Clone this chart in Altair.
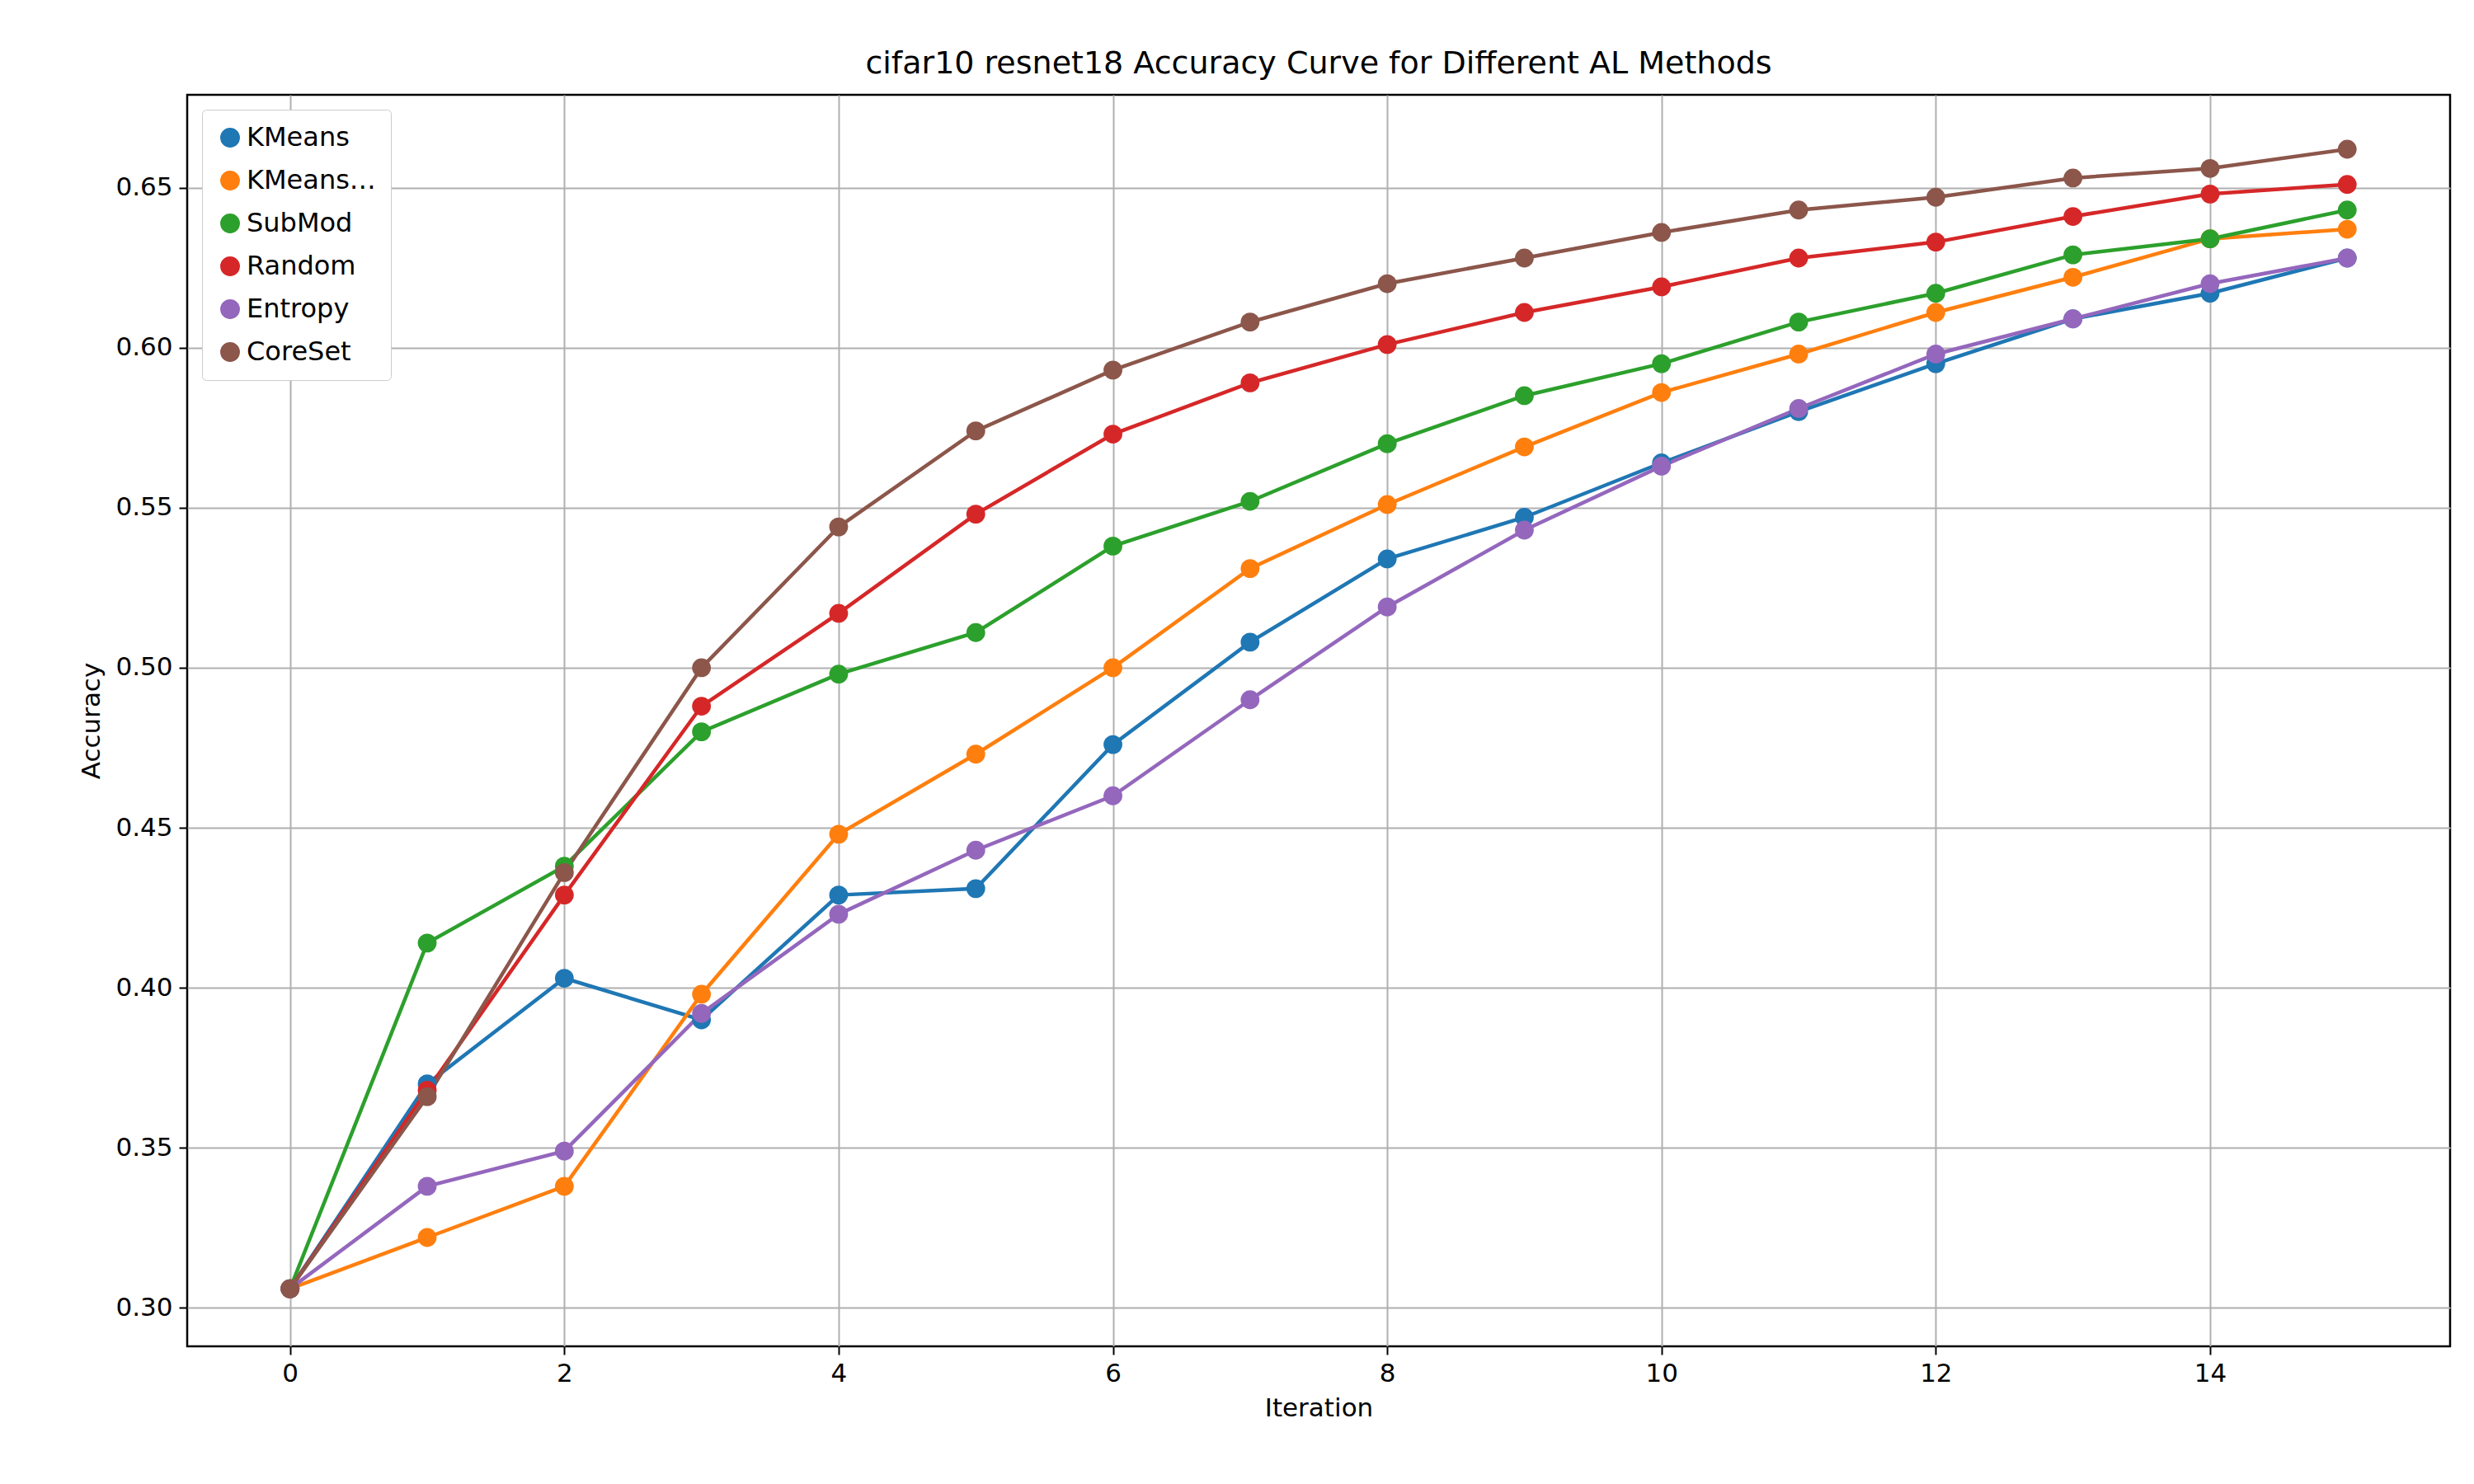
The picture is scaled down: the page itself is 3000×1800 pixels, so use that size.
import altair as alt
import pandas as pd

iters = list(range(16))
methods = ["KMeans", "KMeans+Unc", "SubMod", "Random", "Entropy", "CoreSet"]
colors = ["#1f77b4", "#ff7f0e", "#2ca02c", "#d62728", "#9467bd", "#8c564b"]
kmeans = [0.306, 0.370, 0.403, 0.390, 0.429, 0.431, 0.476, 0.508, 0.534, 0.547, 0.564, 0.580, 0.595, 0.609, 0.617, 0.628]
kmeans_unc = [0.306, 0.322, 0.338, 0.398, 0.448, 0.473, 0.500, 0.531, 0.551, 0.569, 0.586, 0.598, 0.611, 0.622, 0.634, 0.637]
submod = [0.306, 0.414, 0.438, 0.480, 0.498, 0.511, 0.538, 0.552, 0.570, 0.585, 0.595, 0.608, 0.617, 0.629, 0.634, 0.643]
random_ = [0.306, 0.368, 0.429, 0.488, 0.517, 0.548, 0.573, 0.589, 0.601, 0.611, 0.619, 0.628, 0.633, 0.641, 0.648, 0.651]
entropy = [0.306, 0.338, 0.349, 0.392, 0.423, 0.443, 0.460, 0.490, 0.519, 0.543, 0.563, 0.581, 0.598, 0.609, 0.620, 0.628]
coreset = [0.306, 0.366, 0.436, 0.500, 0.544, 0.574, 0.593, 0.608, 0.620, 0.628, 0.636, 0.643, 0.647, 0.653, 0.656, 0.662]

series = [kmeans, kmeans_unc, submod, random_, entropy, coreset]
rows = []
for m, vals in zip(methods, series):
    for i, v in zip(iters, vals):
        rows.append({"Iteration": i, "Accuracy": v, "Method": m})
df = pd.DataFrame(rows)

x = alt.X("Iteration:Q", scale=alt.Scale(domain=[-0.75, 15.75], nice=False, zero=False),
          axis=alt.Axis(values=list(range(0, 16, 2)), title="Iteration"))
y = alt.Y("Accuracy:Q", scale=alt.Scale(domain=[0.288, 0.679], nice=False, zero=False),
          axis=alt.Axis(values=[0.30, 0.35, 0.40, 0.45, 0.50, 0.55, 0.60, 0.65], format=".2f", title="Accuracy"))
color = alt.Color("Method:N", scale=alt.Scale(domain=methods, range=colors),
                  legend=alt.Legend(title=None, orient="top-left", offset=18, symbolType="circle",
                                    symbolSize=500, labelFontSize=32, rowPadding=20, padding=18,
                                    strokeColor="#cccccc", fillColor="white", cornerRadius=5,
                                    labelFont="DejaVu Sans", labelColor="black"))

base = alt.Chart(df).encode(x=x, y=y, color=color, detail="Method:N", order="Iteration:Q")
lines = base.mark_line(strokeWidth=4.5)
points = base.mark_circle(size=520, opacity=1)

chart = (lines + points).properties(
    width=2744, height=1518,
    autosize=alt.AutoSizeParams(type="none"),
    padding={"left": 219, "top": 107, "right": 20, "bottom": 150},
    title=alt.TitleParams("cifar10 resnet18 Accuracy Curve for Different AL Methods",
                          fontSize=38, fontWeight="normal", font="DejaVu Sans", offset=18, color="black"),
).configure_axis(
    grid=True, gridColor="#b0b0b0", gridWidth=2, labelFontSize=31, titleFontSize=31,
    titleFontWeight="normal", labelFont="DejaVu Sans", titleFont="DejaVu Sans",
    domain=False, tickColor="black", tickSize=10, tickWidth=2, labelColor="black", titleColor="black",
    labelPadding=8, titlePadding=12,
).configure_view(stroke="black", strokeWidth=2.5).properties(background="white")

chart.save("out.html", embed_options={"renderer": "svg", "actions": False})
